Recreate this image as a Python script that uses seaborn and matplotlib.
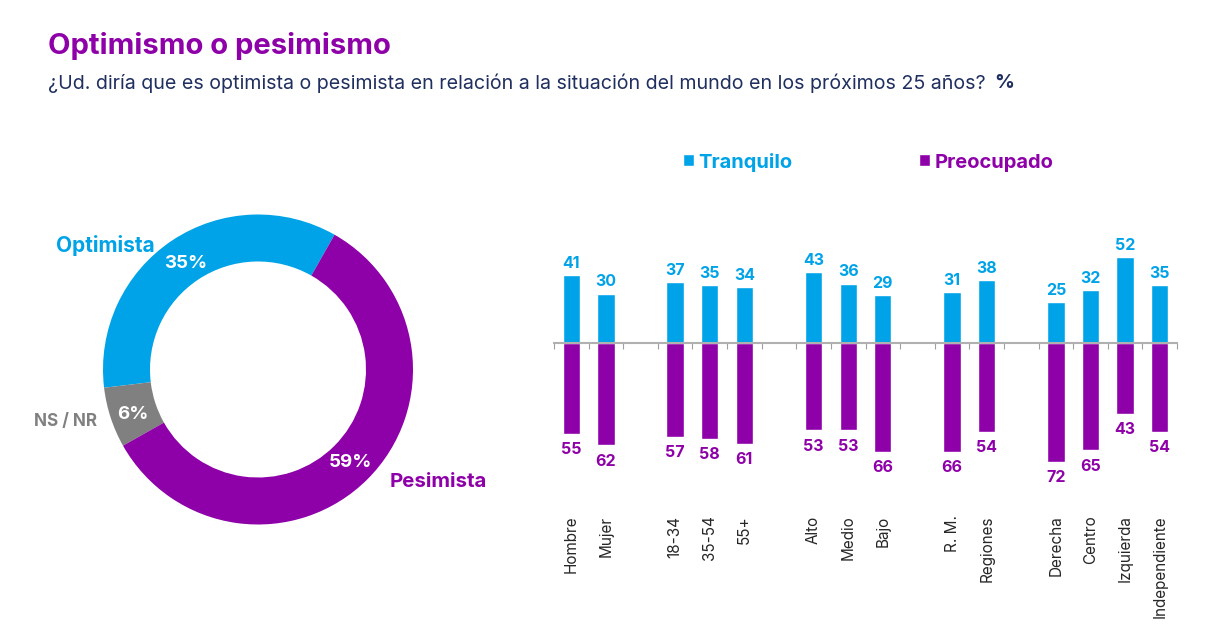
import pandas as pd
import numpy as np
import matplotlib
matplotlib.use("Agg")
import matplotlib.pyplot as plt
import seaborn as sns

W, H = 1224, 630
BLUE = "#00A3E8"
PURPLE = "#8E00A8"
GRAY = "#808080"
NAVY = "#1F2F5F"

# donut (slice sizes as measured on the ring, shown rounded)
pie_labels = ["Optimista", "NS / NR", "Pesimista"]
pie_values = [35.1, 6.3, 58.6]

# bars (blank entries are the gaps between groups)
categories = ["Hombre", "Mujer", " ", "18-34", "35-54", "55+", "  ", "Alto", "Medio", "Bajo", "   ",
              "R. M.", "Regiones", "    ", "Derecha", "Centro", "Izquierda", "Independiente"]
tranquilo = [41, 30, None, 37, 35, 34, None, 43, 36, 29, None, 31, 38, None, 25, 32, 52, 35]
preocupado = [55, 62, None, 57, 58, 61, None, 53, 53, 66, None, 66, 54, None, 72, 65, 43, 54]

sns.set_theme(style="white")
plt.rcParams["font.family"] = ["Inter", "DejaVu Sans"]


def px_rect(x0, y0, x1, y1):
    return [x0 / W, 1 - y1 / H, (x1 - x0) / W, (y1 - y0) / H]


def px_text(x, y, s, **kw):
    fig.text(x / W, 1 - y / H, s, **kw)


fig = plt.figure(figsize=(W / 100, H / 100), dpi=100, facecolor="white")

px_text(48, 46, "Optimismo o pesimismo", color=PURPLE, fontsize=21, fontweight="bold", va="center")
px_text(48, 83, "¿Ud. diría que es optimista o pesimista en relación a la situación del mundo en los próximos 25 años?",
        color=NAVY, fontsize=14.15, va="center")
px_text(994, 83, "%", color=NAVY, fontsize=14.15, fontweight="bold", va="center")

# ── donut ──
ax_pie = fig.add_axes(px_rect(103, 214.5, 413, 524.5))
_, _, autotexts = ax_pie.pie(pie_values, colors=[BLUE, GRAY, PURPLE], startangle=60.4, radius=1,
                             wedgeprops=dict(width=47 / 155, edgecolor="none"),
                             autopct=lambda p: f"{round(p)}%", pctdistance=0.848)
for t, dy in zip(autotexts, [-0.02, -0.025, 0]):
    t.set(color="white", fontsize=13.5, fontweight="bold")
    x, y = t.get_position()
    t.set_position((x, y + dy))
ax_pie.set_xlim(-1, 1)
ax_pie.set_ylim(-1, 1)

px_text(105.5, 245.5, pie_labels[0], color=BLUE, fontsize=15, fontweight="bold", ha="center", va="center")
px_text(65.5, 422, pie_labels[1], color=GRAY, fontsize=12.3, fontweight="bold", ha="center", va="center")
px_text(438.5, 482, pie_labels[2], color=PURPLE, fontsize=14.7, fontweight="bold", ha="center", va="center")

# ── bars ──
df = pd.DataFrame({"cat": categories,
                   "Tranquilo": pd.array(tranquilo, dtype="Float64"),
                   "Preocupado": -pd.array(preocupado, dtype="Float64")})
long = df.melt(id_vars="cat", var_name="serie", value_name="valor").dropna()
long["valor"] = long["valor"].astype(float)

ax = fig.add_axes(px_rect(554, 240, 1177, 490))
sns.barplot(data=long, x="cat", y="valor", hue="serie", order=categories,
            hue_order=["Tranquilo", "Preocupado"], palette=[BLUE, PURPLE],
            dodge=False, width=0.5, saturation=1, ax=ax, legend=True)

for cont, col, pad in zip(ax.containers, [BLUE, PURPLE], [3, 6]):
    ax.bar_label(cont, fmt=lambda v: f"{abs(v):.0f}", color=col, fontsize=11.5, fontweight="bold", padding=pad)

ax.set_xlim(-0.5, 17.5)
ax.set_ylim(-(490 - 343) / 1.65, (343 - 240) / 1.65)
ax.set_xlabel("")
ax.set_ylabel("")
ax.set_yticks([])
for side in ["top", "left", "right"]:
    ax.spines[side].set_visible(False)
ax.spines["bottom"].set_position(("data", 0))
ax.spines["bottom"].set(color="#B0B0B0", linewidth=1.5, zorder=5)
ax.set_xticks(np.arange(-0.5, 18), labels=[])
ax.tick_params(axis="x", length=4, width=0.8, color="#A0A0A0", bottom=True, direction="out")
ax.set_axisbelow(True)

for i, cat in enumerate(categories):
    if cat.strip():
        ax.text(i, -(515.5 - 343) / 1.65, cat, rotation=90, ha="center", va="top", fontsize=11,
                color="#262626", clip_on=False)

handles, labels = ax.get_legend_handles_labels()
leg = ax.legend(handles, labels, ncol=2, frameon=False, loc="center", bbox_to_anchor=(868 / W, 1 - 162 / H),
                bbox_transform=fig.transFigure, handlelength=0.55, handleheight=0.55, handletextpad=0.2,
                columnspacing=6.3, prop=dict(size=14.5, weight="bold"))
for t, col in zip(leg.get_texts(), [BLUE, PURPLE]):
    t.set_color(col)

fig.savefig("out.png", dpi=100)
